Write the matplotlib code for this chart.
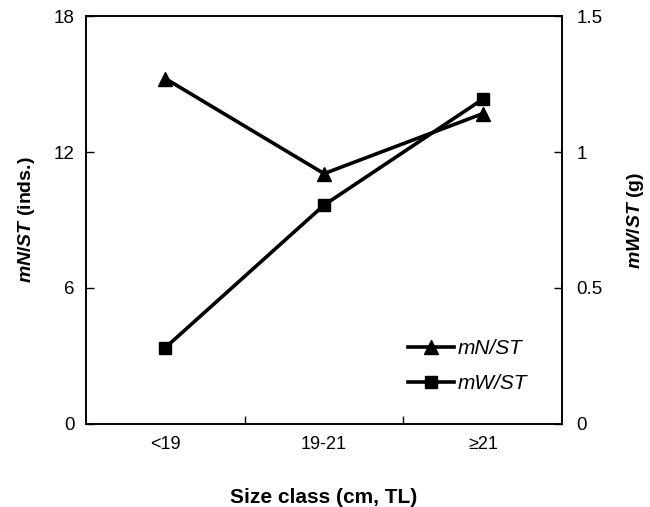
import matplotlib
matplotlib.use("Agg")
import matplotlib.pyplot as plt

plt.rcParams["font.family"] = ["Liberation Sans", "DejaVu Sans"]
plt.rcParams["mathtext.fontset"] = "custom"
plt.rcParams["mathtext.it"] = "Liberation Sans:italic:bold"
plt.rcParams["mathtext.rm"] = "Liberation Sans:bold"

categories = ["<19", "19-21", "≥21"]
mn_st = [15.25, 11.05, 13.7]      # left axis, inds.
mw_st = [0.28, 0.805, 1.195]      # right axis, g

fig = plt.figure(figsize=(6.5, 5.07), dpi=100)
ax = fig.add_axes([0.132, 0.164, 0.733, 0.804])
ax2 = ax.twinx()

x = list(range(len(categories)))
l1, = ax.plot(x, mn_st, color="black", lw=2.6, marker="^", ms=10, label="mN/ST")
l2, = ax2.plot(x, mw_st, color="black", lw=2.6, marker="s", ms=9, label="mW/ST")

ax.set_xlim(-0.5, 2.5)
ax.set_ylim(0, 18)
ax.set_yticks([0, 6, 12, 18])
ax2.set_ylim(0, 1.5)
ax2.set_yticks([0, 0.5, 1, 1.5])
ax2.set_yticklabels(["0", "0.5", "1", "1.5"])

ax.set_xticks(x)
ax.set_xticklabels(categories)
ax.tick_params(axis="x", length=0, pad=9, labelsize=13)
ax.set_xticks([0.5, 1.5], minor=True)
ax.tick_params(axis="x", which="minor", direction="in", length=6, width=1)
ax.tick_params(axis="y", direction="in", length=6, width=1, labelsize=13.5, pad=8)
ax2.tick_params(axis="y", direction="in", length=6, width=1, labelsize=13.5, pad=10)

for a in (ax, ax2):
    for s in a.spines.values():
        s.set_linewidth(1.2)

ax.set_xlabel("Size class (cm, TL)", fontsize=15, fontweight="bold", labelpad=25)
ax.set_ylabel(r"$\it{mN/ST}$ (inds.)", fontsize=14, fontweight="bold", labelpad=12)
ax2.set_ylabel(r"$\it{mW/ST}$ (g)", fontsize=14, fontweight="bold", labelpad=16)

leg = ax.legend([l1, l2], ["mN/ST", "mW/ST"], loc="lower right",
                bbox_to_anchor=(0.965, 0.03), frameon=False, fontsize=15,
                handlelength=2.2, handletextpad=0.15, labelspacing=0.75)
for t in leg.get_texts():
    t.set_fontstyle("italic")

fig.savefig("out.png")
